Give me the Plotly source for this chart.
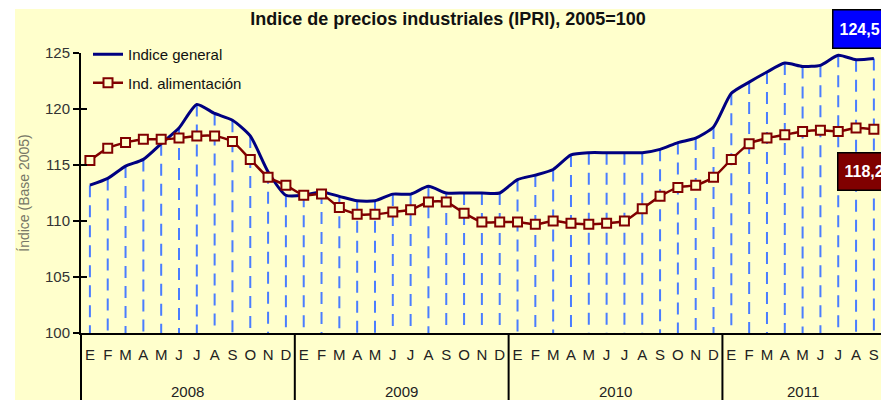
import plotly.graph_objects as go

# ---------------- data ----------------
month_letters = ["E", "F", "M", "A", "M", "J", "J", "A", "S", "O", "N", "D"]
years = ["2008", "2009", "2010", "2011"]
months_per_year = [12, 12, 12, 9]

indice_general = [
    113.2, 113.8, 114.9, 115.5, 116.9, 118.3, 120.4, 119.6, 119.0, 117.6, 114.4, 112.3,
    112.3, 112.6, 112.2, 111.8, 111.8, 112.4, 112.4, 113.1, 112.5, 112.5, 112.5, 112.5,
    113.7, 114.1, 114.6, 115.9, 116.1, 116.1, 116.1, 116.1, 116.4, 117.0, 117.4, 118.4,
    121.4, 122.4, 123.3, 124.1, 123.8, 123.9, 124.8, 124.4, 124.5,
]
ind_alimentacion = [
    115.4, 116.5, 117.0, 117.3, 117.3, 117.4, 117.6, 117.6, 117.1, 115.5, 113.9, 113.2,
    112.3, 112.4, 111.2, 110.6, 110.6, 110.8, 111.0, 111.7, 111.7, 110.7, 109.9, 109.9,
    109.9, 109.7, 110.0, 109.8, 109.7, 109.8, 110.0, 111.1, 112.2, 113.0, 113.2, 113.9,
    115.5, 116.9, 117.4, 117.7, 118.0, 118.1, 118.0, 118.3, 118.2,
]
y_ticks = [100, 105, 110, 115, 120, 125]
label_general = "124,5"
label_alim = "118,2"

# ---------------- derived ----------------
tick_text = []
year_of_point = []
for yr, n in zip(years, months_per_year):
    tick_text += month_letters[:n]
    year_of_point += [yr] * n
xs = list(range(len(indice_general)))
base = y_ticks[0]

# drop lines from each general-index point down to the base
drop_x, drop_y = [], []
for i, v in zip(xs, indice_general):
    drop_x += [i, i, None]
    drop_y += [v, base, None]

YELLOW = "#FFFFCC"
NAVY = "#000080"
DARKRED = "#800000"
DROP = "#4A7DFF"
FONT = "Liberation Sans, Arial, sans-serif"

fig = go.Figure()
fig.add_trace(go.Scatter(
    x=drop_x, y=drop_y, mode="lines", showlegend=False, hoverinfo="skip",
    line=dict(color=DROP, width=2, dash="12px,8px"), yaxis="y",
))
fig.add_trace(go.Scatter(
    x=xs, y=indice_general, mode="lines", name="Indice general",
    line=dict(color=NAVY, width=3, shape="spline", smoothing=0.6),
    yaxis="y2", legendgroup="g1",
))
fig.add_trace(go.Scatter(
    x=xs, y=ind_alimentacion, mode="lines+markers", name="Ind. alimentación",
    line=dict(color=DARKRED, width=2.5, shape="spline", smoothing=0.6),
    marker=dict(symbol="square", size=9, color=YELLOW, line=dict(color=DARKRED, width=2)),
    yaxis="y2", legendgroup="g2",
))

L, T, W, H = 81, 53, 881, 400
B = 67
plot_w = W - L
plot_h = H - T - B

def px_x(p):
    return (p - L) / plot_w

def px_y(p):
    return (H - B - p) / plot_h

shapes = [
    # yellow chart area
    dict(type="rect", xref="paper", yref="paper", x0=px_x(15), x1=px_x(900),
         y0=px_y(410), y1=px_y(9), fillcolor=YELLOW, line=dict(width=0), layer="below"),
    # left axis extension down through the label band
    dict(type="line", xref="paper", yref="paper", x0=0, x1=0, y0=0, y1=px_y(400),
         line=dict(color="black", width=2)),
]
# year dividers
start = 0
annotations = []
for yr, n in zip(years, months_per_year):
    idx = xs[start:start + n]
    if start > 0:
        shapes.append(dict(type="line", xref="x", yref="paper", x0=idx[0] - 0.5, x1=idx[0] - 0.5,
                           y0=0, y1=px_y(400), line=dict(color="black", width=2)))
    annotations.append(dict(xref="x", yref="paper", x=sum(idx) / len(idx), y=px_y(391),
                            text=yr, showarrow=False, yanchor="middle",
                            font=dict(family=FONT, size=15, color="#222")))
    start += n

annotations += [
    dict(xref="paper", yref="paper", x=px_x(832), y=px_y(9), xanchor="left", yanchor="top",
         text="<b>%s</b>" % label_general, showarrow=False, align="left",
         font=dict(family=FONT, size=16, color="white"), bgcolor="#0000FF",
         bordercolor="black", borderwidth=1.5, borderpad=6, height=25, width=60),
    dict(xref="paper", yref="paper", x=px_x(837), y=px_y(152), xanchor="left", yanchor="top",
         text="<b>%s</b>" % label_alim, showarrow=False, align="left",
         font=dict(family=FONT, size=16, color="white"), bgcolor=DARKRED,
         bordercolor="black", borderwidth=1.5, borderpad=6, height=24, width=60),
]

fig.update_layout(
    width=W, height=H,
    margin=dict(l=L, r=0, t=T, b=B, pad=0),
    paper_bgcolor="white", plot_bgcolor=YELLOW,
    font=dict(family=FONT, color="#222"),
    title=dict(text="<b>Indice de precios industriales (IPRI), 2005=100</b>",
               x=448 / W, xanchor="center", xref="container",
               y=1 - 19 / H, yanchor="middle", yref="container",
               font=dict(family=FONT, size=18, color="#111")),
    xaxis=dict(range=[-0.5, 44.4], tickmode="array", tickvals=xs, ticktext=tick_text,
               showgrid=False, zeroline=False, showline=True, linecolor="black", linewidth=2,
               ticks="outside", ticklen=7, tickcolor="rgba(0,0,0,0)",
               tickfont=dict(family=FONT, size=15, color="#222")),
    yaxis=dict(range=[100, 125], tickmode="array", tickvals=y_ticks,
               showgrid=False, zeroline=False, showline=True, linecolor="black", linewidth=2,
               ticks="outside", ticklen=6, tickwidth=2, tickcolor="black",
               tickfont=dict(family=FONT, size=15, color="#333"),
               title=dict(text="Índice (Base 2005)", standoff=12,
                          font=dict(family=FONT, size=14, color="#777766"))),
    yaxis2=dict(range=[100, 125], overlaying="y", tickmode="array", tickvals=y_ticks,
                showgrid=False, zeroline=False, showline=False, showticklabels=False,
                ticks="inside", ticklen=6, tickwidth=2, tickcolor="black", side="left"),
    legend=dict(x=px_x(88), y=px_y(38), xanchor="left", yanchor="top",
                bgcolor="rgba(0,0,0,0)", tracegroupgap=6, traceorder="grouped",
                font=dict(family=FONT, size=15, color="#111")),
    shapes=shapes,
    annotations=annotations,
    showlegend=True,
)

fig.write_html(
    "out.html",
    config={"displayModeBar": False},
    post_script="document.body.style.margin='0';document.body.style.overflow='hidden';",
)
